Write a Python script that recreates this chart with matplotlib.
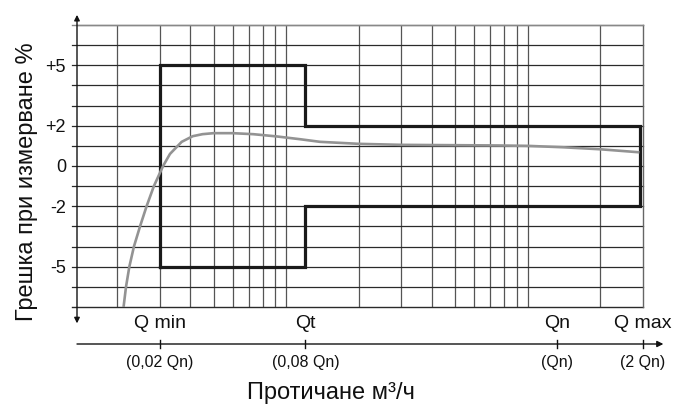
import matplotlib
matplotlib.use("Agg")
import matplotlib.pyplot as plt
import matplotlib.transforms as mtransforms

plt.rcParams['font.family'] = ['Liberation Sans', 'DejaVu Sans']

# ---- data (schematic meter error curve, arbitrary flow units on log scale) ----
x_min, x_max = 1.36, 300
y_min, y_max = -7, 7
grid_x = [2, 3, 4, 5, 6, 7, 8, 9, 10, 20, 30, 40, 50, 60, 70, 80, 90, 100, 200]
grid_y = list(range(-6, 7))
ytick_vals = [5, 2, 0, -2, -5]
ytick_labels = ['+5', '+2', '0', '-2', '-5']

q_min, q_t, q_edge = 3, 12, 292
limit_low_flow = 5     # +/- % between Qmin and Qt
limit_high_flow = 2    # +/- % between Qt and Qmax

curve_flow = [2.12, 2.17, 2.24, 2.34, 2.48, 2.64, 2.83, 3.09, 3.3, 3.69, 4.1, 4.5,
              5, 6, 7.3, 9.1, 11.4, 13.8, 20, 30, 40, 75, 100, 140, 200, 290]
curve_err = [-7, -6, -5, -4, -3, -2, -1, 0, 0.6, 1.2, 1.48, 1.58,
             1.63, 1.63, 1.58, 1.47, 1.33, 1.2, 1.1, 1.05, 1.04, 1.02, 1.0, 0.93, 0.83, 0.68]

flow_ticks = [3, 12, 132, 300]
flow_names = ['Q min', 'Qt', 'Qn', 'Q max']
flow_sub = ['(0,02 Qn)', '(0,08 Qn)', '(Qn)', '(2 Qn)']

W, H = 674, 407
fig = plt.figure(figsize=(W / 100, H / 100), dpi=100)
L, R, T, B = 77, 643, 25, 307
ax = fig.add_axes([L / W, 1 - B / H, (R - L) / W, (B - T) / H])
ax.set_xscale('log')
ax.set_xlim(x_min, x_max)
ax.set_ylim(y_min, y_max)

# grid
for gx in grid_x:
    ax.axvline(gx, color='#555555', lw=0.9, zorder=1)
for gy in grid_y:
    ax.axhline(gy, xmin=-0.009, xmax=1, color='#2a2a2a', lw=0.9, zorder=1, clip_on=False)
ax.axhline(y_max, xmin=-0.009, xmax=1, color='#888888', lw=1.0, zorder=1, clip_on=False)
ax.axhline(y_min, xmin=-0.009, xmax=1, color='#2a2a2a', lw=1.0, zorder=1, clip_on=False)

for s in ['left', 'bottom']:
    ax.spines[s].set_visible(False)
ax.spines['top'].set_color('#888888')
ax.spines['right'].set_color('#666666')
ax.spines['top'].set_linewidth(1.0)
ax.spines['right'].set_linewidth(1.0)

# limits envelope
env_x = [q_min, q_min, q_t, q_t, q_edge, q_edge, q_t, q_t, q_min]
env_y = [-limit_low_flow, limit_low_flow, limit_low_flow, limit_high_flow,
         limit_high_flow, -limit_high_flow, -limit_high_flow, -limit_low_flow, -limit_low_flow]
ax.plot(env_x, env_y, color='#1a1a1a', lw=2.3, solid_joinstyle='miter', zorder=3)

# error curve
ax.plot(curve_flow, curve_err, color='#939393', lw=1.9, zorder=4,
        solid_capstyle='butt', solid_joinstyle='round')

# y ticks
ax.set_xticks([])
ax.set_xticks([], minor=True)
ax.set_yticks(ytick_vals)
ax.set_yticklabels(ytick_labels)
ax.tick_params(axis='y', length=0, pad=8, labelsize=13, labelcolor='#111111')

# left axis with arrows
ax.annotate('', xy=(0, 1.036), xytext=(0, -0.058), xycoords='axes fraction',
            arrowprops=dict(arrowstyle='<|-|>', color='#111111', lw=1.0,
                            mutation_scale=8, shrinkA=0, shrinkB=0),
            annotation_clip=False, zorder=5)

# lower flow axis
blend = mtransforms.blended_transform_factory(ax.transData, ax.transAxes)
y_axis2 = -(344 - B) / (B - T)
ax.annotate('', xy=(1.036, y_axis2), xytext=(0, y_axis2), xycoords='axes fraction',
            arrowprops=dict(arrowstyle='-|>', color='#111111', lw=1.0,
                            mutation_scale=9, shrinkA=0, shrinkB=0),
            annotation_clip=False)
for q, name, sub in zip(flow_ticks, flow_names, flow_sub):
    ax.plot([q, q], [y_axis2 - 0.014, y_axis2 + 0.014], color='#111111', lw=1.0,
            transform=blend, clip_on=False)
    ax.text(q, -(323 - B) / (B - T), name, transform=blend, ha='center', va='center',
            fontsize=14, color='#111111')
    ax.text(q, -(362 - B) / (B - T), sub, transform=blend, ha='center', va='center',
            fontsize=11.5, color='#111111')

fig.text(331 / W, 1 - 393 / H, 'Протичане м³/ч', ha='center', va='center',
         fontsize=17, color='#111111')
fig.text(27 / W, 1 - 182 / H, 'Грешка при измерване %', ha='center', va='center',
         rotation=90, fontsize=17, color='#111111')

fig.savefig('out.png', dpi=100)
